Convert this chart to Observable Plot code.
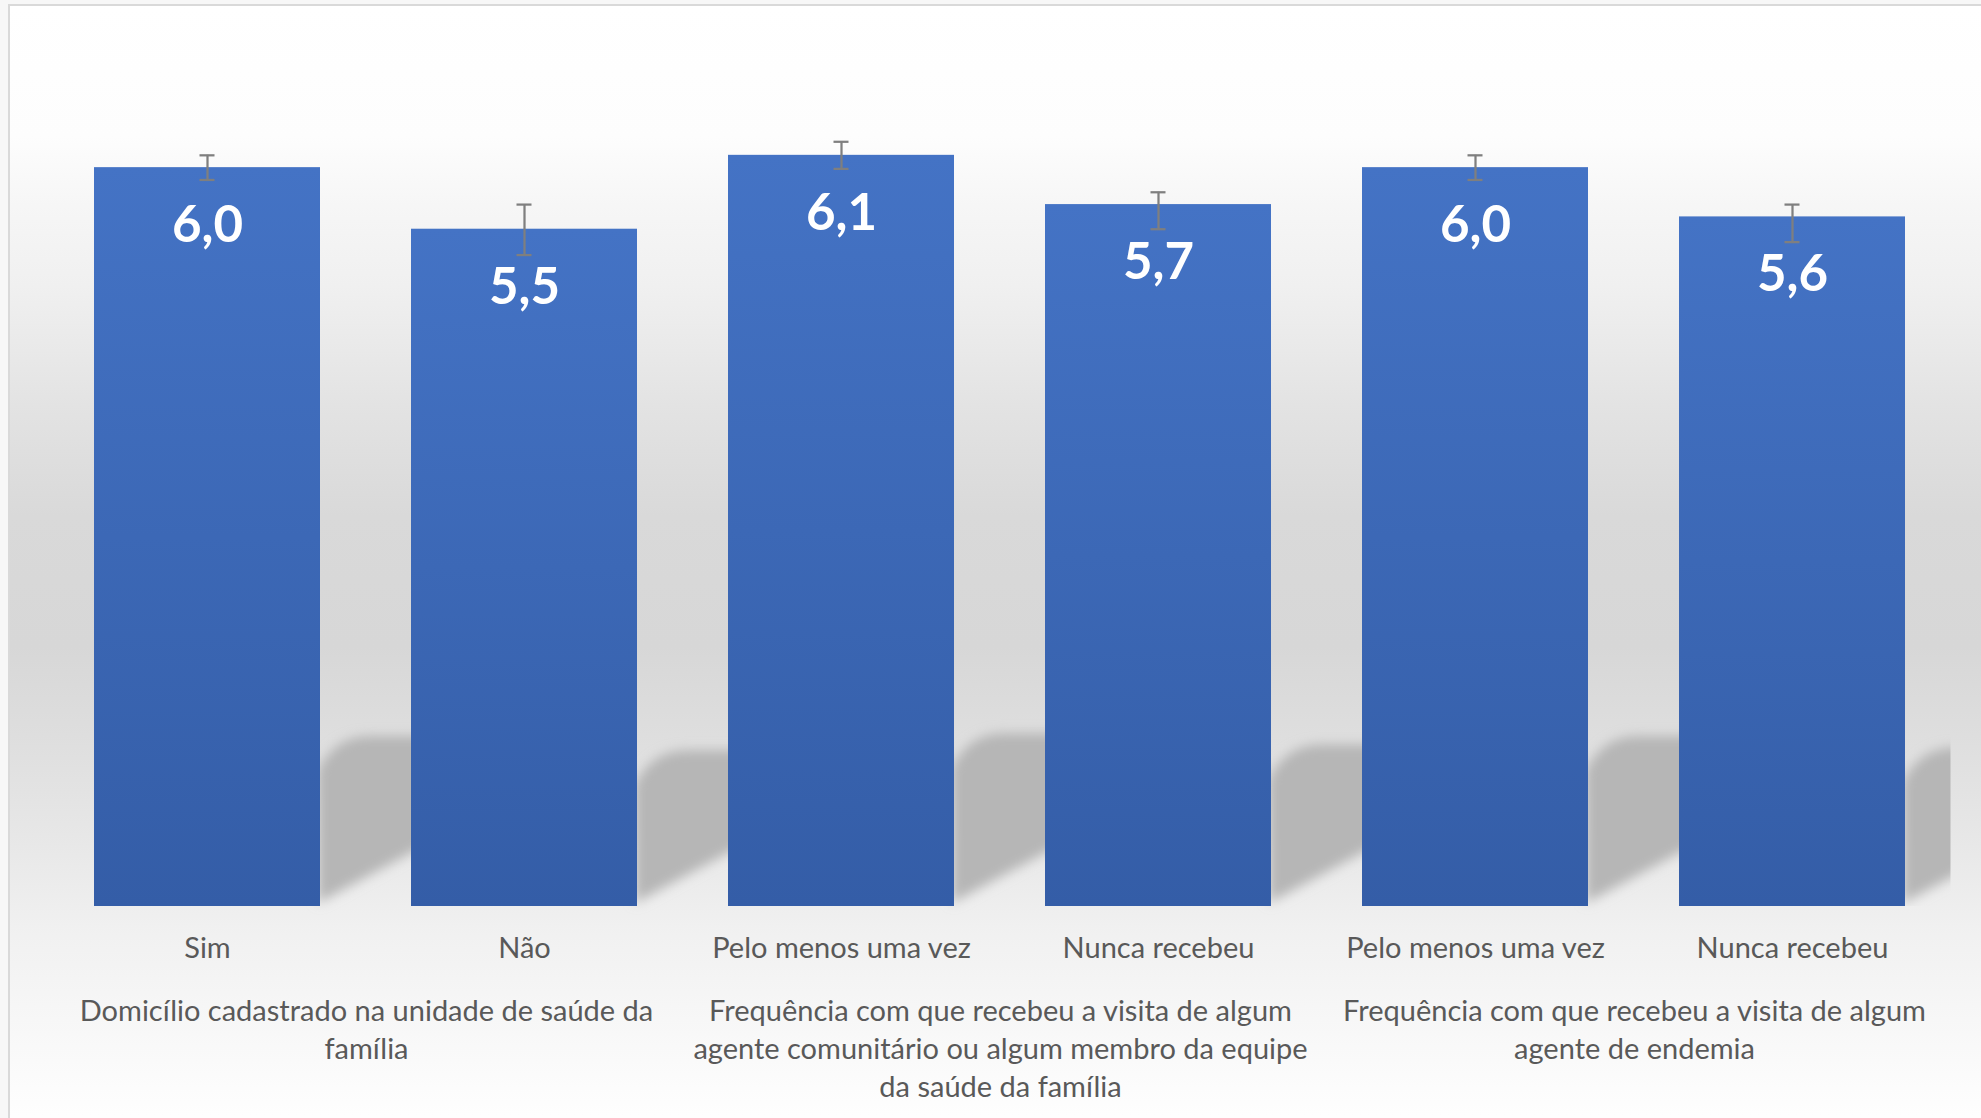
<!DOCTYPE html>
<html>
<head>
<meta charset="utf-8">
<script src="https://cdn.jsdelivr.net/npm/d3@7"></script>
<script src="https://cdn.jsdelivr.net/npm/@observablehq/plot@0.6"></script>
<style>
  body { margin: 0; background: #f7f7f7; }
  #page { position: relative; width: 1981px; height: 1118px; overflow: hidden; background: #f7f7f7; }
  #frame {
    position: absolute; left: 8px; top: 4px; width: 1990px; height: 1120px;
    border-left: 2px solid #d9d9d9; border-top: 2px solid #d9d9d9;
    background: linear-gradient(to bottom,
      #ffffff 0px, #fdfdfd 130px, #f6f6f6 200px, #f0f0f0 280px, #e3e3e3 400px,
      #d9d9d9 510px, #d7d7d7 640px, #dedede 730px, #e8e8e8 840px,
      #f1f1f1 930px, #f6f6f6 1000px, #fefefe 1110px);
  }
  #chart { position: absolute; left: 0; top: 0; }
</style>
</head>
<body>
<div id="page"><div id="frame"></div><div id="chart"></div></div>
<script>
// ---- data ----
const groupNames = [
  "Domicílio cadastrado na unidade de saúde da família",
  "Frequência com que recebeu a visita de algum agente comunitário ou algum membro da equipe da saúde da família",
  "Frequência com que recebeu a visita de algum agente de endemia"
];
const groupLines = [
  "Domicílio cadastrado na unidade de saúde da\nfamília",
  "Frequência com que recebeu a visita de algum\nagente comunitário ou algum membro da equipe\nda saúde da família",
  "Frequência com que recebeu a visita de algum\nagente de endemia"
];
const categories = ["Sim", "Não", "Pelo menos uma vez", "Nunca recebeu", "Pelo menos uma vez", "Nunca recebeu"];
const categoryGroup = [0, 0, 1, 1, 2, 2];
const categorySlot = [0, 1, 0, 1, 0, 1];
const values = [6.0, 5.5, 6.1, 5.7, 6.0, 5.6];
const errorsUp = [0.10, 0.20, 0.11, 0.10, 0.10, 0.10];
const errorsDown = [0.10, 0.21, 0.11, 0.20, 0.10, 0.205];
const yDomain = [0, 7];

const rows = categories.map((label, i) => ({
  group: groupNames[categoryGroup[i]],
  slot: categorySlot[i],
  label,
  value: values[i],
  up: errorsUp[i],
  down: errorsDown[i]
}));
const groupRows = groupNames.map((name, i) => ({name, text: groupLines[i]}));

const FONT = "Lato, 'Open Sans', sans-serif";
const TEXT_GRAY = "#595959";
const ERR_GRAY = "#7f7f7f";

// perspective shadow behind each bar, computed from the bar mark's own scaled values
function shadowRender(index, scales, v) {
  const x = scales.x;
  const bw = x.bandwidth();
  const step = x.step ? x.step() : bw / (1 - 0.287);
  const gap = step - bw;
  const g = d3.create("svg:g");
  for (const i of index) {
    const R = v.x[i] + bw;
    const B = v.y1[i];
    const top = v.y2[i];
    const T = B - 0.23 * (B - top);
    const last = i === rows.length - 1;
    const W = last ? gap / 2 + 14 : gap + 26;
    const d = `M${R - 2},${B - 3}L${R - 2},${T + 34}Q${R + 14},${T + 2} ${R + 46},${T}L${R + W},${T}L${R + W},${B - 3 - 0.55 * W}Z`;
    let host = g;
    if (last) {
      g.append("clipPath").attr("id", "lastShadowClip")
        .append("rect").attr("x", R - bw).attr("y", 0).attr("width", bw + gap / 2).attr("height", B);
      host = g.append("g").attr("clip-path", "url(#lastShadowClip)");
    }
    host.append("path").attr("d", d).attr("fill", "#b6b6b6").attr("filter", "url(#shadowBlur)");
  }
  return g.node();
}

const plot = Plot.plot({
  width: 1981,
  height: 1118,
  marginLeft: 48,
  marginRight: 30,
  marginTop: 44,
  marginBottom: 212,
  style: {background: "transparent", fontFamily: FONT, overflow: "visible"},
  fx: {domain: groupNames, padding: 0, axis: null},
  x: {domain: [0, 1], paddingInner: 0.287, paddingOuter: 0.1435, axis: null},
  y: {domain: yDomain, axis: null},
  marks: [
    Plot.barY(rows, {fx: "group", x: "slot", y: "value", render: shadowRender}),
    Plot.barY(rows, {fx: "group", x: "slot", y: "value", fill: "url(#barGrad)"}),
    Plot.ruleX(rows, {fx: "group", x: "slot", y1: d => d.value - d.down, y2: d => d.value + d.up, stroke: ERR_GRAY, strokeWidth: 2.25}),
    Plot.tickY(rows, {fx: "group", x: "slot", y: d => d.value + d.up, stroke: ERR_GRAY, strokeWidth: 2.25, insetLeft: 105.5, insetRight: 105.5}),
    Plot.tickY(rows, {fx: "group", x: "slot", y: d => d.value - d.down, stroke: ERR_GRAY, strokeWidth: 2.25, insetLeft: 105.5, insetRight: 105.5}),
    Plot.text(rows, {fx: "group", x: "slot", y: "value", text: d => d.value.toFixed(1).replace(".", ","),
      dy: 58, fill: "white", fontSize: 51, fontWeight: "bold", fontFamily: FONT}),
    Plot.text(rows, {fx: "group", x: "slot", text: "label", frameAnchor: "bottom", dy: 51,
      fontSize: 29, fill: TEXT_GRAY, fontFamily: FONT}),
    Plot.text(groupRows, {fx: "name", text: "text", frameAnchor: "bottom", lineAnchor: "top", dy: 88,
      lineHeight: 1.307, fontSize: 29, fill: TEXT_GRAY, fontFamily: FONT})
  ]
});

const svgEl = plot.tagName.toLowerCase() === "svg" ? plot : plot.querySelector("svg");
const svg = d3.select(svgEl);
const defs = svg.insert("defs", ":first-child");
const grad = defs.append("linearGradient").attr("id", "barGrad")
  .attr("x1", 0).attr("y1", 0).attr("x2", 0).attr("y2", 1);
grad.append("stop").attr("offset", "0%").attr("stop-color", "#4473c5");
grad.append("stop").attr("offset", "100%").attr("stop-color", "#345da7");
const blur = defs.append("filter").attr("id", "shadowBlur")
  .attr("x", "-50%").attr("y", "-50%").attr("width", "200%").attr("height", "200%");
blur.append("feGaussianBlur").attr("stdDeviation", 6);

document.getElementById("chart").appendChild(plot);
</script>
</body>
</html>
